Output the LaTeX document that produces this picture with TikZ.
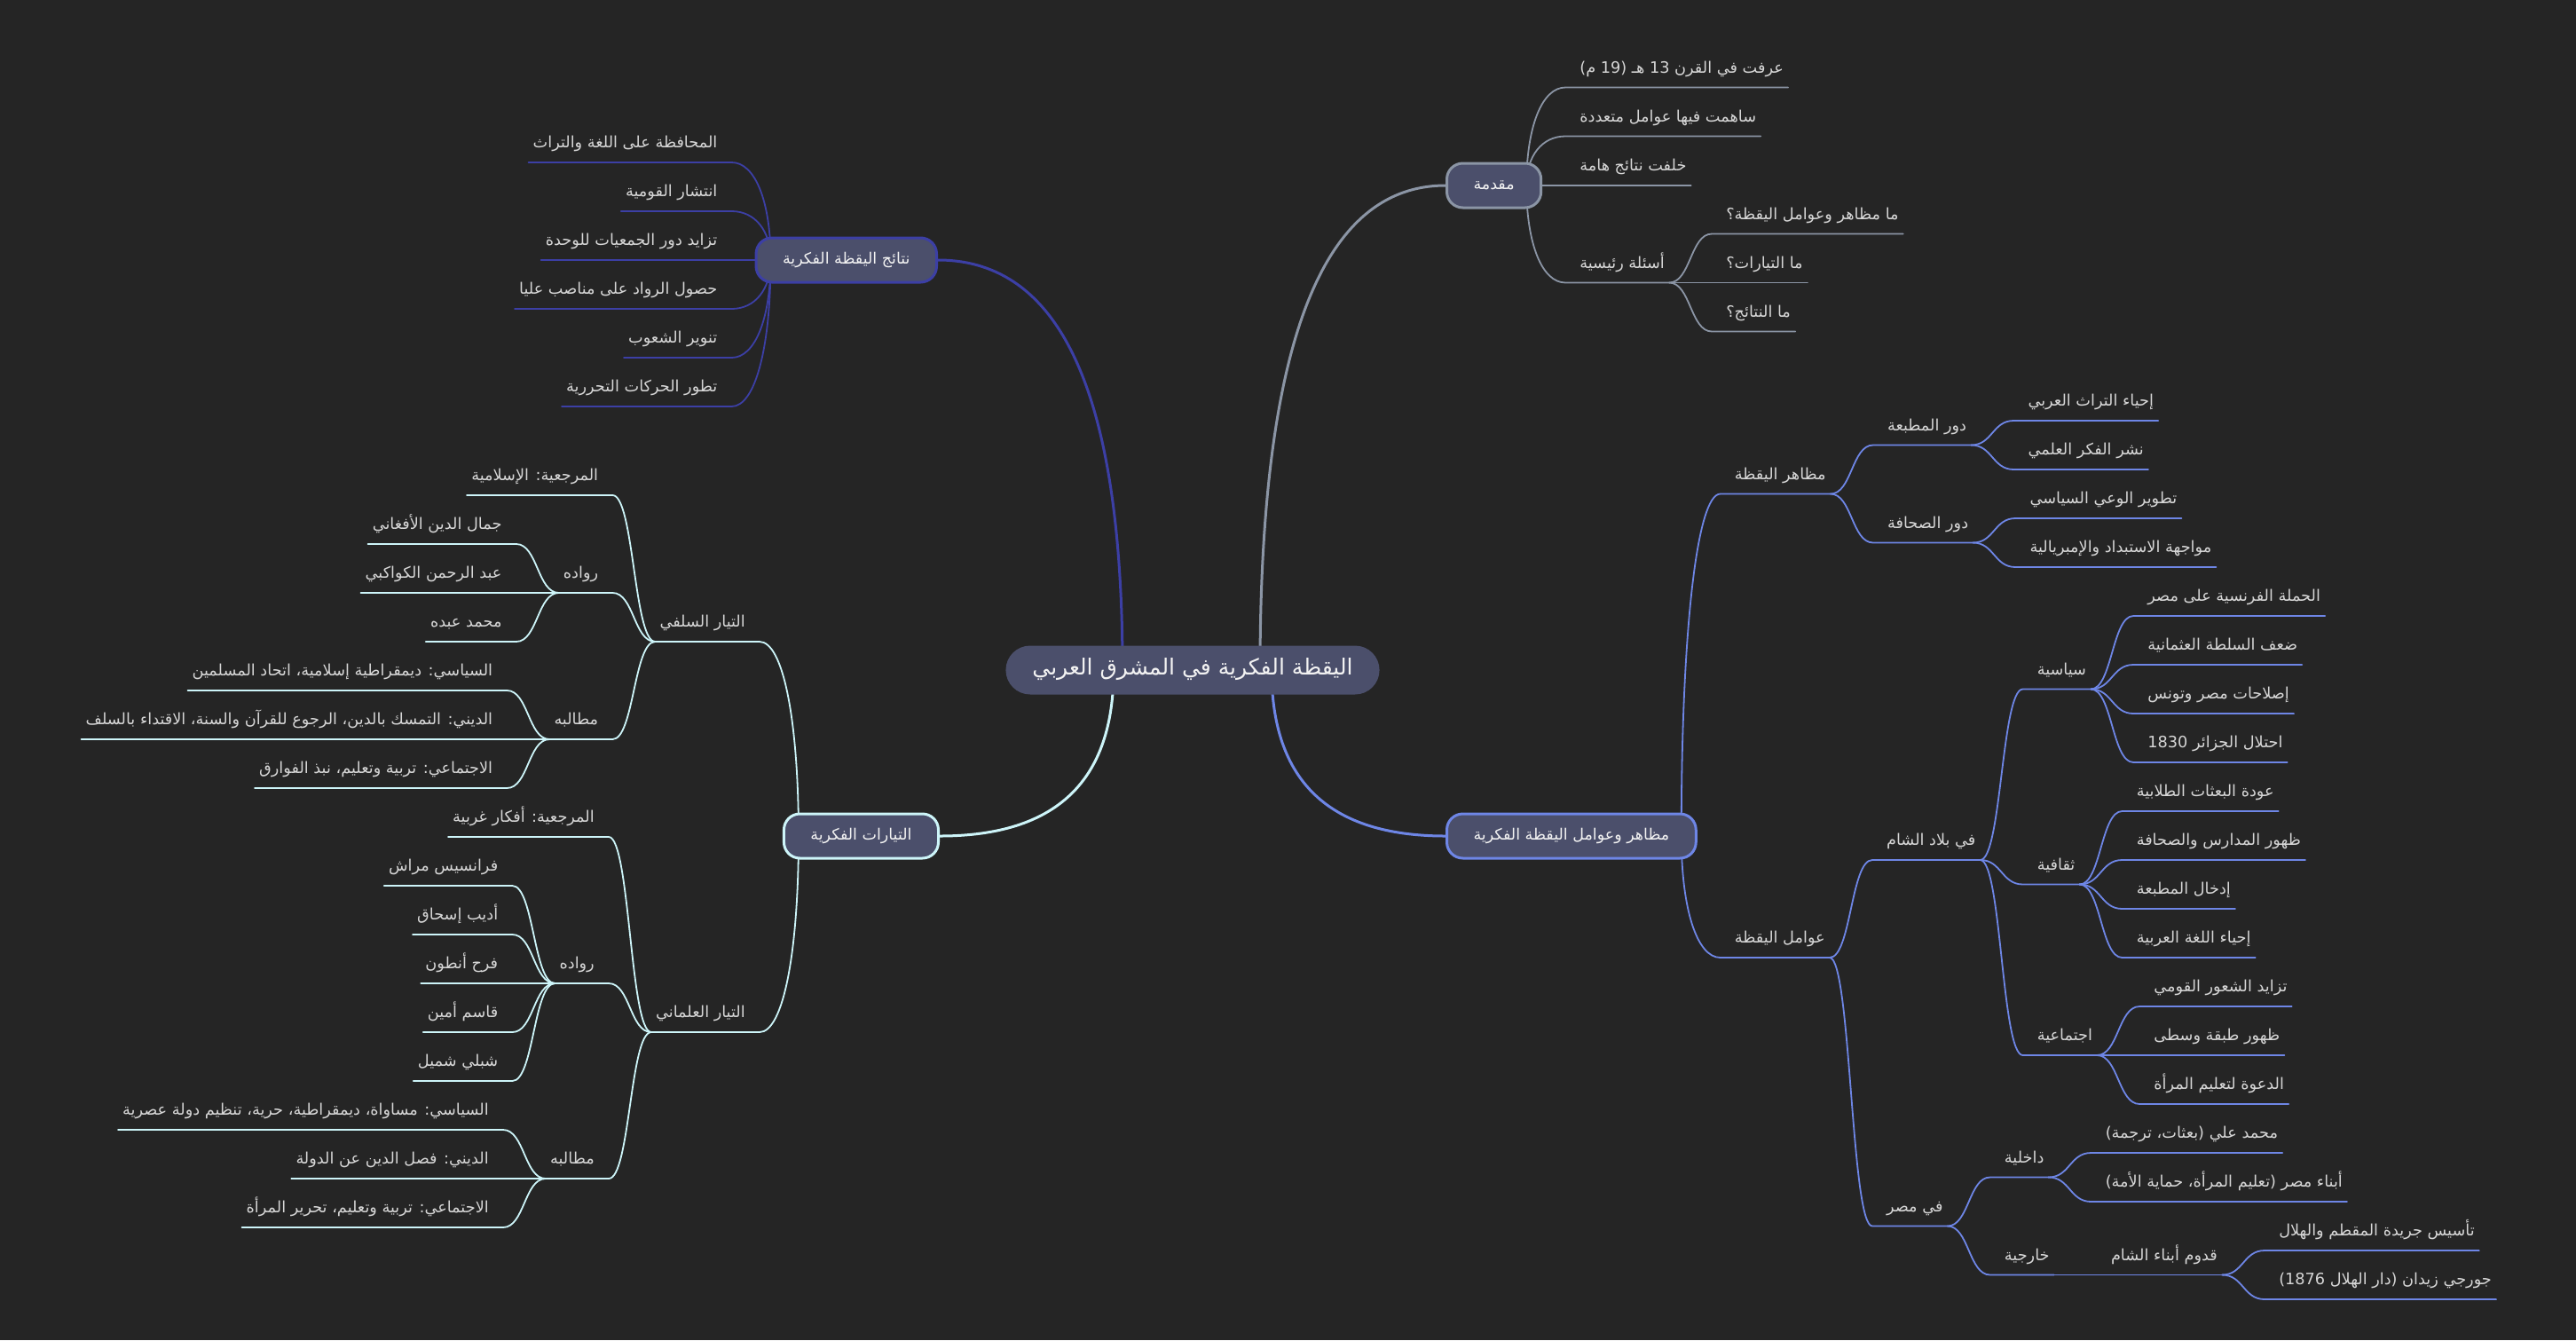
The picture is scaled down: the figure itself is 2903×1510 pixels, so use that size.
\documentclass[tikz,border=0pt]{standalone}
\usepackage{fontspec}
\setmainfont{DejaVu Sans}
\newfontfamily\ar[Script=Arabic]{DejaVu Sans}
\TeXXeTstate=1
\usetikzlibrary{calc}
\pgfdeclarelayer{back}
\pgfdeclarelayer{links}
\pgfsetlayers{back,links,main}
\definecolor{bgc}{HTML}{252525}
\definecolor{boxfill}{HTML}{4B4F6B}
\definecolor{cgray}{HTML}{8B95A5}
\definecolor{cblue}{HTML}{6E86E6}
\definecolor{cindigo}{HTML}{3C3FA5}
\definecolor{ccyan}{HTML}{CDF5F9}
\definecolor{leaftxt}{HTML}{D6D6D6}
\definecolor{boxtxt}{HTML}{F2F2F2}
\tikzset{
  leafbase/.style={inner sep=0pt, text depth=16pt, text height=14pt, text=leaftxt, font=\ar\fontsize{17.7}{21}\selectfont},
  rleaf/.style={leafbase, anchor=south west},
  lleaf/.style={leafbase, anchor=south east},
  topic/.style={draw=#1, line width=3pt, fill=boxfill, rounded corners=18pt, minimum height=50pt, inner xsep=30pt, inner ysep=0pt, text height=13pt, text depth=5pt, text=boxtxt, font=\ar\fontsize{17.5}{21}\selectfont},
  rootbox/.style={fill=boxfill, rounded corners=27.5pt, minimum height=55pt, inner xsep=30pt, inner ysep=0pt, text height=18pt, text depth=7pt, text=boxtxt, font=\ar\fontsize{25}{30}\selectfont},
  mainlink/.style={line width=3pt, line cap=round},
  sublink/.style={line width=1.8pt, line cap=round},
}
\newcommand{\RN}[5]{\node[rleaf] (#1) at ($(#2.south east |- 0,#4)+(#3,0)$) {\hspace*{16pt}#5\hspace*{5pt}};}
\newcommand{\LN}[5]{\node[lleaf] (#1) at ($(#2.south west |- 0,#4)+(-#3,0)$) {\hspace*{5pt}#5\hspace*{16pt}};}
\newcommand{\RS}[3]{\draw[sublink,#1] (#2.south east) .. controls +(24,0) and +(-24,0) .. (#3.south west) -- (#3.south east);}
\newcommand{\LS}[3]{\draw[sublink,#1] (#2.south west) .. controls +(-24,0) and +(24,0) .. (#3.south east) -- (#3.south west);}
\newcommand{\CL}[5]{\draw[#1] let \p1=(#2), \p2=(#3) in (\p1) .. controls (\x1,{\y1+#4*((\y2)-(\y1))}) and ({\x2+#4*((\x1)-(\x2))},\y2) .. (\p2) #5;}
\begin{document}
\begin{tikzpicture}[x=1pt,y=-1pt]
\begin{pgfonlayer}{back}
\fill[bgc] (0,0) rectangle (2903,1510);
\end{pgfonlayer}
\useasboundingbox (0,0) rectangle (2903,1510);

% root and topics
\node[rootbox] (root) at (1344,755) {\beginR اليقظة الفكرية في المشرق العربي\endR};
\node[topic=cgray, anchor=west] (mq) at (1629,209) {\beginR مقدمة\endR};
\node[topic=cblue, anchor=west] (mw) at (1629,942) {\beginR مظاهر وعوامل اليقظة الفكرية\endR};
\node[topic=cindigo, anchor=east] (nt) at (1057,293) {\beginR نتائج اليقظة الفكرية\endR};
\node[topic=ccyan, anchor=east] (ty) at (1059,942) {\beginR التيارات الفكرية\endR};

% مقدمة
\RN{i1}{mq}{26}{98.5}{\beginR عرفت في القرن 13 هـ (19 م)\endR}
\RN{i2}{mq}{26}{153.5}{\beginR ساهمت فيها عوامل متعددة\endR}
\RN{i3}{mq}{26}{209}{\beginR خلفت نتائج هامة\endR}
\RN{i4}{mq}{26}{318.5}{\beginR أسئلة رئيسية\endR}
\RN{i41}{i4}{48}{263.5}{\beginR ما مظاهر وعوامل اليقظة؟\endR}
\RN{i42}{i4}{48}{318.5}{\beginR ما التيارات؟\endR}
\RN{i43}{i4}{48}{373.5}{\beginR ما النتائج؟\endR}

% مظاهر وعوامل
\RN{mz}{mw}{26}{556.5}{\beginR مظاهر اليقظة\endR}
\RN{dm}{mz}{48}{501.5}{\beginR دور المطبعة\endR}
\RN{dm1}{dm}{48}{474}{\beginR إحياء التراث العربي\endR}
\RN{dm2}{dm}{48}{529}{\beginR نشر الفكر العلمي\endR}
\RN{ds}{mz}{48}{611.5}{\beginR دور الصحافة\endR}
\RN{ds1}{ds}{48}{584}{\beginR تطوير الوعي السياسي\endR}
\RN{ds2}{ds}{48}{639}{\beginR مواجهة الاستبداد والإمبريالية\endR}
\RN{aw}{mw}{26}{1079}{\beginR عوامل اليقظة\endR}
\RN{bs}{aw}{48}{969}{\beginR في بلاد الشام\endR}
\RN{sy}{bs}{48}{776.5}{\beginR سياسية\endR}
\RN{sy1}{sy}{48}{694}{\beginR الحملة الفرنسية على مصر\endR}
\RN{sy2}{sy}{48}{749}{\beginR ضعف السلطة العثمانية\endR}
\RN{sy3}{sy}{48}{804}{\beginR إصلاحات مصر وتونس\endR}
\RN{sy4}{sy}{48}{859}{\beginR احتلال الجزائر 1830\endR}
\RN{th}{bs}{48}{996.5}{\beginR ثقافية\endR}
\RN{th1}{th}{48}{914}{\beginR عودة البعثات الطلابية\endR}
\RN{th2}{th}{48}{969}{\beginR ظهور المدارس والصحافة\endR}
\RN{th3}{th}{48}{1024}{\beginR إدخال المطبعة\endR}
\RN{th4}{th}{48}{1079}{\beginR إحياء اللغة العربية\endR}
\RN{ij}{bs}{48}{1189}{\beginR اجتماعية\endR}
\RN{ij1}{ij}{48}{1134}{\beginR تزايد الشعور القومي\endR}
\RN{ij2}{ij}{48}{1189}{\beginR ظهور طبقة وسطى\endR}
\RN{ij3}{ij}{48}{1244}{\beginR الدعوة لتعليم المرأة\endR}
\RN{ms}{aw}{48}{1381.5}{\beginR في مصر\endR}
\RN{dk}{ms}{48}{1326.5}{\beginR داخلية\endR}
\RN{dk1}{dk}{48}{1299}{\beginR محمد علي (بعثات، ترجمة)\endR}
\RN{dk2}{dk}{48}{1354}{\beginR أبناء مصر (تعليم المرأة، حماية الأمة)\endR}
\RN{kh}{ms}{48}{1436.5}{\beginR خارجية\endR}
\RN{qd}{kh}{48}{1436.5}{\beginR قدوم أبناء الشام\endR}
\RN{qd1}{qd}{48}{1409}{\beginR تأسيس جريدة المقطم والهلال\endR}
\RN{qd2}{qd}{48}{1464}{\beginR جورجي زيدان (دار الهلال 1876)\endR}

% نتائج
\LN{n1}{nt}{26}{183}{\beginR المحافظة على اللغة والتراث\endR}
\LN{n2}{nt}{26}{238}{\beginR انتشار القومية\endR}
\LN{n3}{nt}{26}{293}{\beginR تزايد دور الجمعيات للوحدة\endR}
\LN{n4}{nt}{26}{348}{\beginR حصول الرواد على مناصب عليا\endR}
\LN{n5}{nt}{26}{403}{\beginR تنوير الشعوب\endR}
\LN{n6}{nt}{26}{458}{\beginR تطور الحركات التحررية\endR}

% التيارات
\LN{sl}{ty}{26}{723}{\beginR التيار السلفي\endR}
\LN{sl1}{sl}{48}{558}{\beginR المرجعية: الإسلامية\endR}
\LN{rwa}{sl}{48}{668}{\beginR رواده\endR}
\LN{rwa1}{rwa}{48}{613}{\beginR جمال الدين الأفغاني\endR}
\LN{rwa2}{rwa}{48}{668}{\beginR عبد الرحمن الكواكبي\endR}
\LN{rwa3}{rwa}{48}{723}{\beginR محمد عبده\endR}
\LN{mta}{sl}{48}{833}{\beginR مطالبه\endR}
\LN{mta1}{mta}{48}{778}{\beginR السياسي: ديمقراطية إسلامية، اتحاد المسلمين\endR}
\LN{mta2}{mta}{48}{833}{\beginR الديني: التمسك بالدين، الرجوع للقرآن والسنة، الاقتداء بالسلف\endR}
\LN{mta3}{mta}{48}{888}{\beginR الاجتماعي: تربية وتعليم، نبذ الفوارق\endR}
\LN{al}{ty}{26}{1163}{\beginR التيار العلماني\endR}
\LN{al1}{al}{48}{943}{\beginR المرجعية: أفكار غربية\endR}
\LN{rwb}{al}{48}{1108}{\beginR رواده\endR}
\LN{rwb1}{rwb}{48}{998}{\beginR فرانسيس مراش\endR}
\LN{rwb2}{rwb}{48}{1053}{\beginR أديب إسحاق\endR}
\LN{rwb3}{rwb}{48}{1108}{\beginR فرح أنطون\endR}
\LN{rwb4}{rwb}{48}{1163}{\beginR قاسم أمين\endR}
\LN{rwb5}{rwb}{48}{1218}{\beginR شبلي شميل\endR}
\LN{mtb}{al}{48}{1328}{\beginR مطالبه\endR}
\LN{mtb1}{mtb}{48}{1273}{\beginR السياسي: مساواة، ديمقراطية، حرية، تنظيم دولة عصرية\endR}
\LN{mtb2}{mtb}{48}{1328}{\beginR الديني: فصل الدين عن الدولة\endR}
\LN{mtb3}{mtb}{48}{1383}{\beginR الاجتماعي: تربية وتعليم، تحرير المرأة\endR}

% connection points
\coordinate (r-q) at ($(root.center)+(76,0)$);
\coordinate (r-w) at ($(root.center)+(89,0)$);
\coordinate (r-n) at ($(root.center)+(-79,0)$);
\coordinate (r-t) at ($(root.center)+(-89,0)$);
\coordinate (mq-o) at ($(mq.east)+(-18,0)$);
\coordinate (mw-o) at ($(mw.east)+(-18,0)$);
\coordinate (nt-o) at ($(nt.west)+(18,0)$);
\coordinate (ty-o) at ($(ty.west)+(18,0)$);

\begin{pgfonlayer}{links}
\CL{mainlink,cgray}{r-q}{mq.west}{0.67}{}
\CL{mainlink,cblue}{r-w}{mw.west}{0.67}{}
\CL{mainlink,cindigo}{r-n}{nt.east}{0.67}{}
\CL{mainlink,ccyan}{r-t}{ty.east}{0.67}{}

\CL{sublink,cgray}{mq-o}{i1.south west}{0.6}{-- (i1.south east)}
\CL{sublink,cgray}{mq-o}{i2.south west}{0.6}{-- (i2.south east)}
\CL{sublink,cgray}{mq-o}{i3.south west}{0.6}{-- (i3.south east)}
\CL{sublink,cgray}{mq-o}{i4.south west}{0.6}{-- (i4.south east)}
\RS{cgray}{i4}{i41}
\RS{cgray}{i4}{i42}
\RS{cgray}{i4}{i43}

\CL{sublink,cblue}{mw-o}{mz.south west}{0.6}{-- (mz.south east)}
\CL{sublink,cblue}{mw-o}{aw.south west}{0.6}{-- (aw.south east)}
\RS{cblue}{mz}{dm}
\RS{cblue}{mz}{ds}
\RS{cblue}{dm}{dm1}
\RS{cblue}{dm}{dm2}
\RS{cblue}{ds}{ds1}
\RS{cblue}{ds}{ds2}
\RS{cblue}{aw}{bs}
\RS{cblue}{aw}{ms}
\RS{cblue}{bs}{sy}
\RS{cblue}{bs}{th}
\RS{cblue}{bs}{ij}
\RS{cblue}{sy}{sy1}
\RS{cblue}{sy}{sy2}
\RS{cblue}{sy}{sy3}
\RS{cblue}{sy}{sy4}
\RS{cblue}{th}{th1}
\RS{cblue}{th}{th2}
\RS{cblue}{th}{th3}
\RS{cblue}{th}{th4}
\RS{cblue}{ij}{ij1}
\RS{cblue}{ij}{ij2}
\RS{cblue}{ij}{ij3}
\RS{cblue}{ms}{dk}
\RS{cblue}{ms}{kh}
\RS{cblue}{dk}{dk1}
\RS{cblue}{dk}{dk2}
\RS{cblue}{kh}{qd}
\RS{cblue}{qd}{qd1}
\RS{cblue}{qd}{qd2}

\CL{sublink,cindigo}{nt-o}{n1.south east}{0.6}{-- (n1.south west)}
\CL{sublink,cindigo}{nt-o}{n2.south east}{0.6}{-- (n2.south west)}
\CL{sublink,cindigo}{nt-o}{n3.south east}{0.6}{-- (n3.south west)}
\CL{sublink,cindigo}{nt-o}{n4.south east}{0.6}{-- (n4.south west)}
\CL{sublink,cindigo}{nt-o}{n5.south east}{0.6}{-- (n5.south west)}
\CL{sublink,cindigo}{nt-o}{n6.south east}{0.6}{-- (n6.south west)}

\CL{sublink,ccyan}{ty-o}{sl.south east}{0.6}{-- (sl.south west)}
\CL{sublink,ccyan}{ty-o}{al.south east}{0.6}{-- (al.south west)}
\LS{ccyan}{sl}{sl1}
\LS{ccyan}{sl}{rwa}
\LS{ccyan}{sl}{mta}
\LS{ccyan}{rwa}{rwa1}
\LS{ccyan}{rwa}{rwa2}
\LS{ccyan}{rwa}{rwa3}
\LS{ccyan}{mta}{mta1}
\LS{ccyan}{mta}{mta2}
\LS{ccyan}{mta}{mta3}
\LS{ccyan}{al}{al1}
\LS{ccyan}{al}{rwb}
\LS{ccyan}{al}{mtb}
\LS{ccyan}{rwb}{rwb1}
\LS{ccyan}{rwb}{rwb2}
\LS{ccyan}{rwb}{rwb3}
\LS{ccyan}{rwb}{rwb4}
\LS{ccyan}{rwb}{rwb5}
\LS{ccyan}{mtb}{mtb1}
\LS{ccyan}{mtb}{mtb2}
\LS{ccyan}{mtb}{mtb3}
\end{pgfonlayer}
\end{tikzpicture}
\end{document}
